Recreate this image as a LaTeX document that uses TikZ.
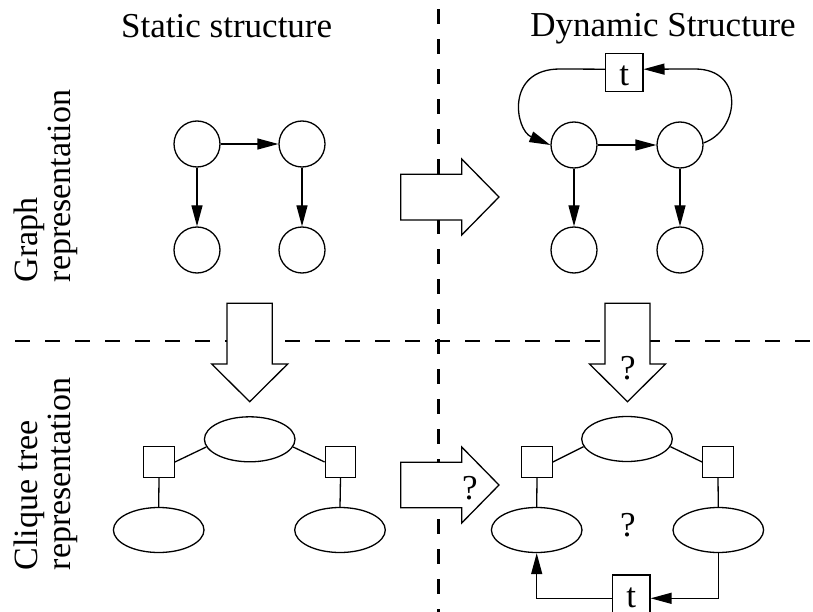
\documentclass[tikz,border=0pt]{standalone}
\usepackage{fontspec}
\setmainfont{Liberation Serif}
\usetikzlibrary{shapes.geometric,arrows.meta,calc}

\begin{document}
\begin{tikzpicture}[x=1pt,y=-1pt,
  var/.style={circle,draw,line width=1.3pt,minimum size=46pt,inner sep=0pt},
  clq/.style={ellipse,draw,line width=1.3pt,minimum width=90.6pt,minimum height=45pt,inner sep=0pt},
  sepbox/.style={rectangle,draw,line width=1.3pt,minimum size=30.5pt,inner sep=0pt},
  tbox/.style={rectangle,draw,line width=1.3pt,minimum width=37.3pt,minimum height=38pt,
    inner sep=0pt,font=\fontsize{35}{40}\selectfont,text height=26pt,text depth=0pt},
  arr/.style={line width=1.3pt,-{Triangle[length=21pt,width=11pt]}},
  link/.style={line width=1.3pt},
  big/.style={draw,fill=white,line width=1.3pt,line join=miter},
  divider/.style={line width=2.5pt,dash pattern=on 15pt off 15pt},
  txt/.style={font=\fontsize{35}{40}\selectfont,inner sep=0pt},
  side/.style={font=\fontsize{34}{33.5}\selectfont,inner sep=0pt,align=left,rotate=90}
]
\useasboundingbox (0,0) rectangle (813,612);

% quadrant dividers
\draw[divider] (15,341) -- (813,341);
\draw[divider] (438.3,9.3) -- (438.3,612);

% column and row headings
\node[txt,anchor=base] (tStatic) at (226.7,38) {Static structure};
\node[txt,anchor=base] (tDynamic) at (663,37) {Dynamic Structure};
\node[side] (lGraph) at (46,186) {Graph\\representation};
\node[side] (lClique) at (46,474) {Clique tree\\representation};

% static graph
\node[var] (s1) at (197,144) {};
\node[var] (s2) at (302,144) {};
\node[var] (s3) at (197,250) {};
\node[var] (s4) at (302,250) {};
\draw[arr] (s1) -- (s2);
\draw[arr] (s1) -- (s3);
\draw[arr] (s2) -- (s4);

% dynamic graph
\node[var] (d1) at (574,145) {};
\node[var] (d2) at (680,145) {};
\node[var] (d3) at (574,250) {};
\node[var] (d4) at (680,250) {};
\node[tbox] (t1) at (624.2,72.2) {t};
\draw[arr] (d1) -- (d2);
\draw[arr] (d1) -- (d3);
\draw[arr] (d2) -- (d4);
\draw[arr] ([yshift=3pt]t1.west) -- (560,69) .. controls (505,69) and (515,130) .. (d1.west);
\draw[arr] (d2.5) .. controls (740,130) and (745,69) .. (695,69) -- ([yshift=3pt]t1.east);

% block arrows between the quadrants
\draw[big] (400.7,174.3) -- (461.7,174.3) -- (461.7,159) -- (499,197) -- (461.7,235)
  -- (461.7,220) -- (400.7,220) -- cycle;
\draw[big] (400.7,462.3) -- (461.7,462.3) -- (461.7,447) -- (499,485) -- (461.7,523)
  -- (461.7,507.7) -- (400.7,507.7) -- cycle;
\draw[big] (227,303.3) -- (272.3,303.3) -- (272.3,364) -- (287.7,364) -- (249.7,401.7)
  -- (211.7,364) -- (227,364) -- cycle;
\draw[big] (605,303.3) -- (650,303.3) -- (650,364) -- (665.5,364) -- (627.5,401.7)
  -- (589.5,364) -- (605,364) -- cycle;
\node[txt] (qDown) at (628,368) {?};
\node[txt] (qRight) at (470,488) {?};

% static clique tree
\node[clq] (a0) at (249.7,439.3) {};
\node[sepbox] (a1) at (159,462) {};
\node[sepbox] (a2) at (340.5,462) {};
\node[clq] (a3) at (158.7,530) {};
\node[clq] (a4) at (340,530) {};
\draw[link] (a1.east) -- (a0.190);
\draw[link] (a2.west) -- (a0.350);
\draw[link] (a1.south) -- (a3.north);
\draw[link] (a2.south) -- (a4.north);

% dynamic clique tree
\node[clq] (b0) at (627,439) {};
\node[sepbox] (b1) at (537,462) {};
\node[sepbox] (b2) at (718,462) {};
\node[clq] (b3) at (536.7,530) {};
\node[clq] (b4) at (718.3,530) {};
\draw[link] (b1.east) -- (b0.190);
\draw[link] (b2.west) -- (b0.350);
\draw[link] (b1.south) -- (b3.north);
\draw[link] (b2.south) -- (b4.north);
\node[txt] (qMid) at (628,525) {?};
\node[tbox] (t2) at (631.3,594) {t};
\draw[arr] (b4.south) |- ([yshift=-4.3pt]t2.east);
\draw[arr] ([yshift=-4.3pt]t2.west) -| (b3.south);
\end{tikzpicture}
\end{document}
